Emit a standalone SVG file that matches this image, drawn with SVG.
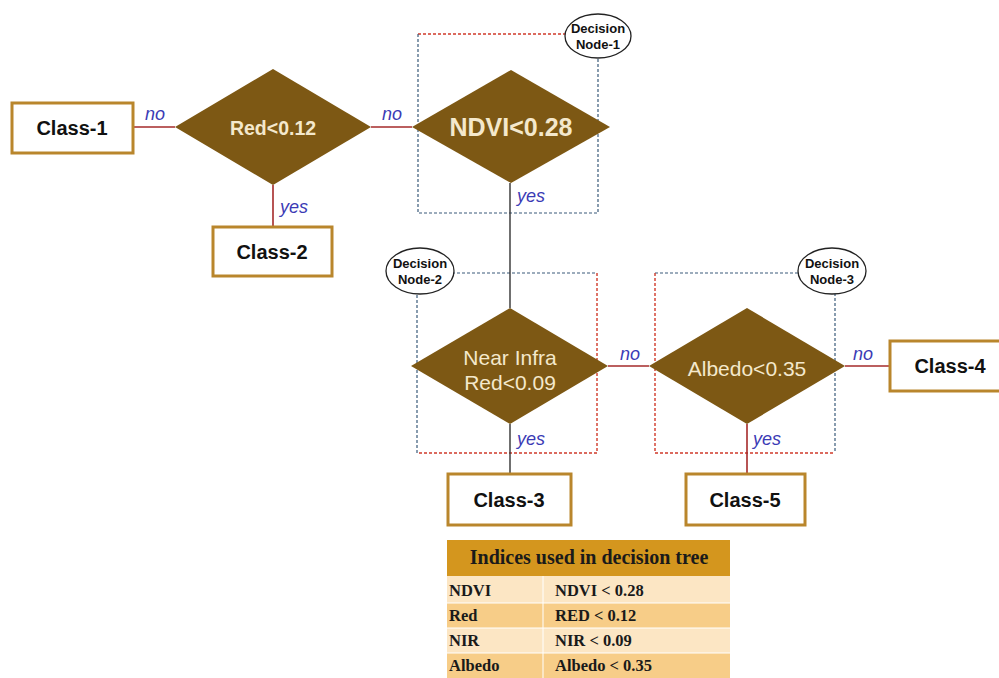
<svg xmlns="http://www.w3.org/2000/svg" width="999" height="678" viewBox="0 0 999 678">
  <style>
    .cls rect { fill: #ffffff; stroke: #b9862c; stroke-width: 3; }
    .cls text { font-family: "Liberation Sans", Arial, sans-serif; font-weight: bold; font-size: 20px; fill: #111; text-anchor: middle; dominant-baseline: central; }
    .dia polygon { fill: #7d5814; }
    .dia text { font-family: "Liberation Sans", Arial, sans-serif; font-size: 20px; fill: #f4e8cc; text-anchor: middle; dominant-baseline: central; }
    .lab { font-family: "Liberation Sans", Arial, sans-serif; font-style: italic; font-size: 18px; fill: #3b3bb5; }
    .edge-r { stroke: #a52a2a; stroke-width: 1.6; fill: none; }
    .edge-k { stroke: #333; stroke-width: 1.4; fill: none; }
    .dash-b { stroke: #3a5a7a; stroke-width: 1.2; stroke-dasharray: 3 2; fill: none; }
    .dash-r { stroke: #d03a2a; stroke-width: 1.4; stroke-dasharray: 3 2; fill: none; }
    .tag ellipse { fill: #fff; stroke: #222; stroke-width: 1.3; }
    .tag text { font-family: "Liberation Sans", Arial, sans-serif; font-weight: bold; font-size: 13px; fill: #111; text-anchor: middle; }
    .tbl text { font-family: "Liberation Serif", "Times New Roman", serif; font-weight: bold; font-size: 16.5px; fill: #1a1a1a; dominant-baseline: central; }
  </style>

  <!-- decision-node frames -->
  <g id="frames">
    <!-- frame 1 -->
    <path class="dash-r" d="M418 34 H598"/>
    <path class="dash-b" d="M418 34 V213 H598 V34"/>
    <!-- frame 2 -->
    <path class="dash-b" d="M417 453 V273 H597"/>
    <path class="dash-r" d="M597 273 V453 H417"/>
    <!-- frame 3 -->
    <path class="dash-b" d="M655 273 H835 V453"/>
    <path class="dash-r" d="M655 273 V453 H835"/>
  </g>

  <!-- connectors -->
  <g id="connectors">
    <line class="edge-r" x1="133" y1="127" x2="175" y2="127"/>
    <line class="edge-r" x1="371" y1="127" x2="412" y2="127"/>
    <line class="edge-r" x1="273" y1="185" x2="273" y2="227"/>
    <line class="edge-k" x1="510" y1="183" x2="510" y2="308"/>
    <line class="edge-r" x1="608" y1="366" x2="649" y2="366"/>
    <line class="edge-r" x1="845" y1="366" x2="890" y2="366"/>
    <line class="edge-k" x1="510" y1="424" x2="510" y2="474"/>
    <line class="edge-r" x1="747" y1="424" x2="747" y2="474"/>
    <text class="lab" x="145" y="120">no</text>
    <text class="lab" x="382" y="120">no</text>
    <text class="lab" x="280" y="213">yes</text>
    <text class="lab" x="517" y="202">yes</text>
    <text class="lab" x="620" y="360">no</text>
    <text class="lab" x="853" y="360">no</text>
    <text class="lab" x="517" y="445">yes</text>
    <text class="lab" x="753" y="445">yes</text>
  </g>

  <!-- leaf classes -->
  <g id="class1" class="cls"><rect x="12" y="103" width="121" height="50"/><text x="72" y="128">Class-1</text></g>
  <g id="class2" class="cls"><rect x="213" y="227" width="119" height="49"/><text x="272" y="252">Class-2</text></g>
  <g id="class3" class="cls"><rect x="448" y="474" width="123" height="51"/><text x="509" y="500">Class-3</text></g>
  <g id="class4" class="cls"><rect x="890" y="341" width="112" height="50"/><text x="950" y="366">Class-4</text></g>
  <g id="class5" class="cls"><rect x="686" y="474" width="119" height="51"/><text x="745" y="500">Class-5</text></g>

  <!-- decision diamonds -->
  <g id="red" class="dia"><polygon points="273,69 371,127 273,185 175,127"/><text x="273" y="128" style="font-weight:bold;font-size:19.5px">Red&lt;0.12</text></g>
  <g id="ndvi" class="dia"><polygon points="511,70 610,127 511,183 412,127"/><text x="511" y="127" style="font-size:25px;font-weight:bold">NDVI&lt;0.28</text></g>
  <g id="nir" class="dia"><polygon points="510,308 608,366 510,424 411,366"/><text x="510" y="357" style="font-size:21px">Near Infra</text><text x="510" y="382" style="font-size:21px">Red&lt;0.09</text></g>
  <g id="albedo" class="dia"><polygon points="747,308 845,366 747,424 649,366"/><text x="747" y="368" style="font-size:21px">Albedo&lt;0.35</text></g>

  <!-- frame tags -->
  <g id="tag1" class="tag"><ellipse cx="598" cy="36" rx="33" ry="22"/><text x="598" y="33">Decision</text><text x="598" y="49">Node-1</text></g>
  <g id="tag2" class="tag"><ellipse cx="420" cy="271" rx="34" ry="23"/><text x="420" y="268">Decision</text><text x="420" y="284">Node-2</text></g>
  <g id="tag3" class="tag"><ellipse cx="832" cy="271" rx="34" ry="23"/><text x="832" y="268">Decision</text><text x="832" y="284">Node-3</text></g>

  <!-- index table -->
  <g id="table" class="tbl">
    <rect x="447" y="540" width="283" height="36" fill="#d4961e"/>
    <rect x="447" y="576" width="283" height="27" fill="#fce6c4"/>
    <rect x="447" y="603" width="283" height="25" fill="#f7cd88"/>
    <rect x="447" y="628" width="283" height="25" fill="#fce6c4"/>
    <rect x="447" y="653" width="283" height="25" fill="#f7cd88"/>
    <line x1="543" y1="576" x2="543" y2="678" stroke="#fff" stroke-width="1"/>
    <line x1="447" y1="603" x2="730" y2="603" stroke="#fff" stroke-width="1"/>
    <line x1="447" y1="628" x2="730" y2="628" stroke="#fff" stroke-width="1"/>
    <line x1="447" y1="653" x2="730" y2="653" stroke="#fff" stroke-width="1"/>
    <text x="589" y="557" text-anchor="middle" style="font-size:20px">Indices used in decision tree</text>
    <text x="449" y="590">NDVI</text><text x="555" y="590">NDVI &lt; 0.28</text>
    <text x="449" y="615">Red</text><text x="555" y="615">RED &lt; 0.12</text>
    <text x="449" y="640">NIR</text><text x="555" y="640">NIR &lt; 0.09</text>
    <text x="449" y="665">Albedo</text><text x="555" y="665">Albedo &lt; 0.35</text>
  </g>
</svg>
